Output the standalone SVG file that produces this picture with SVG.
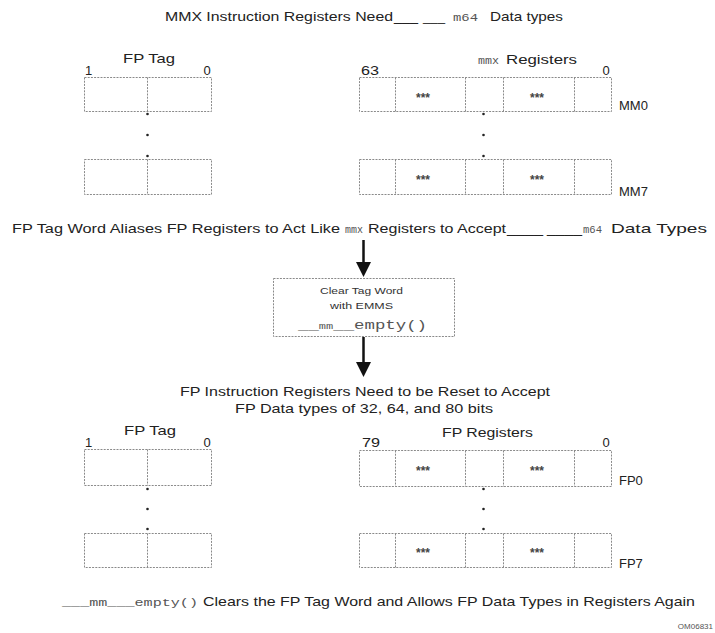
<svg xmlns="http://www.w3.org/2000/svg" width="715" height="633" viewBox="0 0 715 633">
<defs>
<style>
.bx{fill:none;stroke:#8a8a8a;stroke-width:1;stroke-dasharray:2 1.2}
.dv{stroke:#8a8a8a;stroke-width:1;stroke-dasharray:2 1.2}
.t{font-family:"Liberation Sans",Arial,sans-serif;fill:#222;font-size:13px}
.s{font-family:"Liberation Sans",Arial,sans-serif;fill:#222;font-size:13px}
.m{font-family:"Liberation Mono","Courier New",monospace;fill:#555}
.st{font-family:"Liberation Sans",Arial,sans-serif;fill:#444;font-size:12px;font-weight:bold}
.dot{fill:#222}
.ar{stroke:#111;stroke-width:2.5;fill:none}
.ah{fill:#111}
</style>
</defs>
<rect width="715" height="633" fill="#fff"/>

<g id="title">
<text class="t" x="165" y="21" textLength="228" lengthAdjust="spacingAndGlyphs">MMX Instruction Registers Need</text>
<text class="t" x="394" y="21" textLength="24" lengthAdjust="spacingAndGlyphs">___</text>
<text class="t" x="423" y="21" textLength="22" lengthAdjust="spacingAndGlyphs">___</text>
<text class="m" x="453" y="21" font-size="11" textLength="25" lengthAdjust="spacingAndGlyphs">m64</text>
<text class="t" x="490" y="21" textLength="73" lengthAdjust="spacingAndGlyphs">Data types</text>
</g>

<g id="fptag-mm0">
<text class="s" x="123" y="63" textLength="52" lengthAdjust="spacingAndGlyphs">FP Tag</text>
<text class="s" x="88.5" y="75" text-anchor="middle">1</text>
<text class="s" x="207" y="75" text-anchor="middle">0</text>
<rect class="bx" x="84.5" y="77.5" width="127" height="34"/>
<line class="dv" x1="147.5" y1="77.5" x2="147.5" y2="111.5"/>
</g>

<g id="mmx-mm0">
<text class="m" x="478" y="64" font-size="10" textLength="21" lengthAdjust="spacingAndGlyphs">mmx</text>
<text class="s" x="506" y="64" textLength="71" lengthAdjust="spacingAndGlyphs">Registers</text>
<text class="s" x="361" y="75" textLength="18" lengthAdjust="spacingAndGlyphs">63</text>
<text class="s" x="606" y="75" text-anchor="middle">0</text>
<rect class="bx" x="359.5" y="77.5" width="252" height="34"/>
<line class="dv" x1="395.5" y1="77.5" x2="395.5" y2="111.5"/>
<line class="dv" x1="465.5" y1="77.5" x2="465.5" y2="111.5"/>
<line class="dv" x1="503.5" y1="77.5" x2="503.5" y2="111.5"/>
<line class="dv" x1="574.5" y1="77.5" x2="574.5" y2="111.5"/>
<text class="st" x="423" y="101.5" text-anchor="middle">***</text>
<text class="st" x="537" y="101.5" text-anchor="middle">***</text>
<text class="s" x="619" y="110" font-size="12">MM0</text>
</g>

<g id="dots-mmx">
<circle class="dot" cx="147.5" cy="114" r="1.3"/>
<circle class="dot" cx="147.5" cy="135" r="1.3"/>
<circle class="dot" cx="147.5" cy="156" r="1.3"/>
<circle class="dot" cx="483.5" cy="114" r="1.3"/>
<circle class="dot" cx="483.5" cy="135" r="1.3"/>
<circle class="dot" cx="483.5" cy="156" r="1.3"/>
</g>

<g id="fptag-mm7">
<rect class="bx" x="84.5" y="159.5" width="127" height="35"/>
<line class="dv" x1="147.5" y1="159.5" x2="147.5" y2="194.5"/>
</g>

<g id="mmx-mm7">
<rect class="bx" x="359.5" y="159.5" width="252" height="35"/>
<line class="dv" x1="395.5" y1="159.5" x2="395.5" y2="194.5"/>
<line class="dv" x1="465.5" y1="159.5" x2="465.5" y2="194.5"/>
<line class="dv" x1="503.5" y1="159.5" x2="503.5" y2="194.5"/>
<line class="dv" x1="574.5" y1="159.5" x2="574.5" y2="194.5"/>
<text class="st" x="423" y="184" text-anchor="middle">***</text>
<text class="st" x="537" y="184" text-anchor="middle">***</text>
<text class="s" x="619" y="196" font-size="12">MM7</text>
</g>

<g id="alias-text">
<text class="t" x="12" y="233" textLength="328" lengthAdjust="spacingAndGlyphs">FP Tag Word Aliases FP Registers to Act Like</text>
<text class="m" x="345" y="233" font-size="10" textLength="18" lengthAdjust="spacingAndGlyphs">mmx</text>
<text class="t" x="368" y="233" textLength="138" lengthAdjust="spacingAndGlyphs">Registers to Accept</text>
<text class="t" x="507" y="233" textLength="36" lengthAdjust="spacingAndGlyphs">____</text>
<text class="t" x="547" y="233" textLength="35" lengthAdjust="spacingAndGlyphs">____</text>
<text class="m" x="583" y="233" font-size="10" textLength="19" lengthAdjust="spacingAndGlyphs">m64</text>
<text class="t" x="611" y="233" textLength="96" lengthAdjust="spacingAndGlyphs">Data Types</text>
</g>

<g id="connectors">
<line class="ar" x1="363.5" y1="240" x2="363.5" y2="264"/>
<polygon class="ah" points="356,262 371,262 363.5,277"/>
<line class="ar" x1="363.5" y1="337" x2="363.5" y2="364"/>
<polygon class="ah" points="356,362 371,362 363.5,377"/>
</g>

<g id="emms-box">
<rect class="bx" x="273.5" y="278.5" width="181" height="58"/>
<text x="320" y="294" font-family="Liberation Sans, Arial, sans-serif" font-size="9.5" fill="#333" textLength="83" lengthAdjust="spacingAndGlyphs">Clear Tag Word</text>
<text x="330" y="309" font-family="Liberation Sans, Arial, sans-serif" font-size="9.5" fill="#333" textLength="63" lengthAdjust="spacingAndGlyphs">with EMMS</text>
<text x="298" y="329" class="m" font-size="13" textLength="129" lengthAdjust="spacingAndGlyphs">__<tspan font-size="9">mm</tspan>__empty()</text>
</g>

<g id="reset-text">
<text class="t" x="180" y="396" textLength="370" lengthAdjust="spacingAndGlyphs">FP Instruction Registers Need to be Reset to Accept</text>
<text class="t" x="235" y="413" textLength="258" lengthAdjust="spacingAndGlyphs">FP  Data types of 32, 64, and 80 bits</text>
</g>

<g id="fptag-fp0">
<text class="s" x="124" y="435" textLength="52" lengthAdjust="spacingAndGlyphs">FP Tag</text>
<text class="s" x="88.5" y="447" text-anchor="middle">1</text>
<text class="s" x="207" y="447" text-anchor="middle">0</text>
<rect class="bx" x="84.5" y="449.5" width="127" height="36"/>
<line class="dv" x1="147.5" y1="449.5" x2="147.5" y2="485.5"/>
</g>

<g id="fp-fp0">
<text class="s" x="442" y="437" textLength="91" lengthAdjust="spacingAndGlyphs">FP Registers</text>
<text class="s" x="362" y="447" textLength="18" lengthAdjust="spacingAndGlyphs">79</text>
<text class="s" x="606" y="447" text-anchor="middle">0</text>
<rect class="bx" x="359.5" y="450.5" width="252" height="36"/>
<line class="dv" x1="395.5" y1="450.5" x2="395.5" y2="486.5"/>
<line class="dv" x1="465.5" y1="450.5" x2="465.5" y2="486.5"/>
<line class="dv" x1="503.5" y1="450.5" x2="503.5" y2="486.5"/>
<line class="dv" x1="574.5" y1="450.5" x2="574.5" y2="486.5"/>
<text class="st" x="423" y="475" text-anchor="middle">***</text>
<text class="st" x="537" y="475" text-anchor="middle">***</text>
<text class="s" x="619" y="485" font-size="12">FP0</text>
</g>

<g id="dots-fp">
<circle class="dot" cx="147.5" cy="489" r="1.3"/>
<circle class="dot" cx="147.5" cy="509" r="1.3"/>
<circle class="dot" cx="147.5" cy="529" r="1.3"/>
<circle class="dot" cx="483.5" cy="489" r="1.3"/>
<circle class="dot" cx="483.5" cy="509" r="1.3"/>
<circle class="dot" cx="483.5" cy="529" r="1.3"/>
</g>

<g id="fptag-fp7">
<rect class="bx" x="84.5" y="533.5" width="127" height="34"/>
<line class="dv" x1="147.5" y1="533.5" x2="147.5" y2="567.5"/>
</g>

<g id="fp-fp7">
<rect class="bx" x="359.5" y="533.5" width="252" height="34"/>
<line class="dv" x1="395.5" y1="533.5" x2="395.5" y2="567.5"/>
<line class="dv" x1="465.5" y1="533.5" x2="465.5" y2="567.5"/>
<line class="dv" x1="503.5" y1="533.5" x2="503.5" y2="567.5"/>
<line class="dv" x1="574.5" y1="533.5" x2="574.5" y2="567.5"/>
<text class="st" x="423" y="557" text-anchor="middle">***</text>
<text class="st" x="537" y="557" text-anchor="middle">***</text>
<text class="s" x="619" y="568" font-size="12">FP7</text>
</g>

<g id="empty-text">
<text class="m" x="62" y="606" font-size="11" textLength="136" lengthAdjust="spacingAndGlyphs">___mm___empty()</text>
<text class="t" x="203" y="606" textLength="492" lengthAdjust="spacingAndGlyphs">Clears the FP Tag Word and Allows FP Data Types in Registers Again</text>
</g>

<text x="713" y="629" text-anchor="end" font-family="Liberation Sans, Arial, sans-serif" font-size="8" fill="#555">OM06831</text>
</svg>
